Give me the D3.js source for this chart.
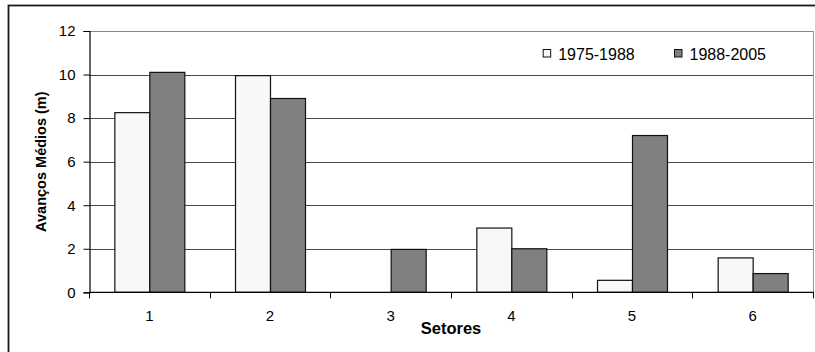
<!DOCTYPE html>
<html>
<head>
<meta charset="utf-8">
<script src="https://cdn.jsdelivr.net/npm/d3@7"></script>
<style>
  html, body { margin: 0; padding: 0; background: #fff; }
  svg { display: block; }
  text { font-family: "Liberation Sans", Arial, sans-serif; fill: #000; }
</style>
</head>
<body>
<svg id="chart" width="815" height="352"></svg>
<script>
const sectors = ["1", "2", "3", "4", "5", "6"];
const seriesNames = ["1975-1988", "1988-2005"];
const values1975_1988 = [8.25, 9.95, 0, 2.95, 0.55, 1.58];
const values1988_2005 = [10.1, 8.9, 1.97, 2.0, 7.2, 0.86];
const yTicks = [0, 2, 4, 6, 8, 10, 12];
const xTitle = "Setores";
const yTitle = "Avanços Médios (m)";
const seriesFill = ["#f8f8f8", "#808080"];

const svg = d3.select("#chart");
const m = { left: 89, right: 813, top: 31, bottom: 292.3 };

// outer border
svg.append("rect")
  .attr("x", 8.5).attr("y", 5.5)
  .attr("width", 820).attr("height", 360)
  .attr("fill", "none").attr("stroke", "#1a1a1a").attr("stroke-width", 1.8);

const x = d3.scaleBand().domain(sectors).range([m.left, m.right]).paddingInner(0).paddingOuter(0);
const y = d3.scaleLinear().domain([0, 12]).range([m.bottom, m.top]);

const barW = x.bandwidth() * 0.29;
const off = (x.bandwidth() - 2 * barW) / 2;
const xs = d3.scaleBand().domain([0, 1]).range([off, off + 2 * barW]).padding(0);

// gridlines
svg.append("g").selectAll("line")
  .data(yTicks.filter(t => t > 0 && t < 12))
  .join("line")
  .attr("x1", m.left).attr("x2", m.right)
  .attr("y1", d => Math.round(y(d)) + 0.5).attr("y2", d => Math.round(y(d)) + 0.5)
  .attr("stroke", "#4a4a4a").attr("stroke-width", 1);

// plot border top/right (gray)
svg.append("line")
  .attr("x1", m.left).attr("x2", m.right)
  .attr("y1", Math.round(y(12)) + 0.5).attr("y2", Math.round(y(12)) + 0.5)
  .attr("stroke", "#8a8a8a");
svg.append("line")
  .attr("x1", m.right + 0.5).attr("x2", m.right + 0.5)
  .attr("y1", y(12)).attr("y2", y(0))
  .attr("stroke", "#9a9a9a");

// bars
const data = sectors.map((s, i) => ({ s, v: [values1975_1988[i], values1988_2005[i]] }));
const groups = svg.append("g").selectAll("g")
  .data(data).join("g")
  .attr("transform", d => `translate(${x(d.s)},0)`);
groups.selectAll("rect")
  .data(d => d.v.map((v, k) => ({ v, k })).filter(e => e.v > 0))
  .join("rect")
  .attr("x", e => xs(e.k) + 0.5)
  .attr("width", xs.bandwidth())
  .attr("y", e => y(e.v))
  .attr("height", e => y(0) - y(e.v))
  .attr("fill", e => seriesFill[e.k])
  .attr("stroke", "#111")
  .attr("stroke-width", 1.2);

// y axis
const yAxis = d3.axisLeft(y).tickValues(yTicks).tickSize(6).tickPadding(8);
const gy = svg.append("g").attr("transform", `translate(${m.left + 0.5},0)`).call(yAxis);
gy.select(".domain").attr("stroke", "#000").attr("stroke-width", 1.2);
gy.selectAll(".tick line").attr("stroke", "#000");
gy.selectAll(".tick text").style("font-size", "15px").attr("fill", "#000")
  .style("font-family", "'Liberation Sans', Arial, sans-serif");

// x axis with ticks at band boundaries
const xAxisLine = svg.append("g").attr("transform", `translate(0,${m.bottom})`);
xAxisLine.append("line").attr("x1", m.left).attr("x2", m.right + 1)
  .attr("stroke", "#000").attr("stroke-width", 1.3);
const boundaries = sectors.map(s => x(s)).concat([m.right]);
xAxisLine.selectAll("line.tk").data(boundaries).join("line")
  .attr("class", "tk")
  .attr("x1", d => Math.round(d) + 0.5).attr("x2", d => Math.round(d) + 0.5)
  .attr("y1", 0).attr("y2", 6).attr("stroke", "#000");
xAxisLine.selectAll("text").data(sectors).join("text")
  .attr("x", d => x(d) + x.bandwidth() / 2)
  .attr("y", 28.5)
  .attr("text-anchor", "middle")
  .style("font-size", "15px")
  .text(d => d);

// axis titles
svg.append("text")
  .attr("x", (m.left + m.right) / 2)
  .attr("y", 333.5)
  .attr("text-anchor", "middle")
  .style("font-size", "16.5px").style("font-weight", "bold")
  .text(xTitle);

svg.append("text")
  .attr("transform", `translate(45.5,${(m.top + m.bottom) / 2}) rotate(-90)`)
  .attr("text-anchor", "middle")
  .style("font-size", "14.5px").style("font-weight", "bold")
  .text(yTitle);

// legend
const legX = [542.7, 674];
const leg = svg.append("g").selectAll("g").data(seriesNames).join("g")
  .attr("transform", (d, i) => `translate(${legX[i]},49)`);
leg.append("rect").attr("x", 0.5).attr("y", 0.5).attr("width", 7.5).attr("height", 7.5)
  .attr("fill", (d, i) => seriesFill[i]).attr("stroke", "#111");
leg.append("text").attr("x", 15.5).attr("y", 10.5)
  .style("font-size", "16px")
  .text(d => d);
</script>
</body>
</html>
